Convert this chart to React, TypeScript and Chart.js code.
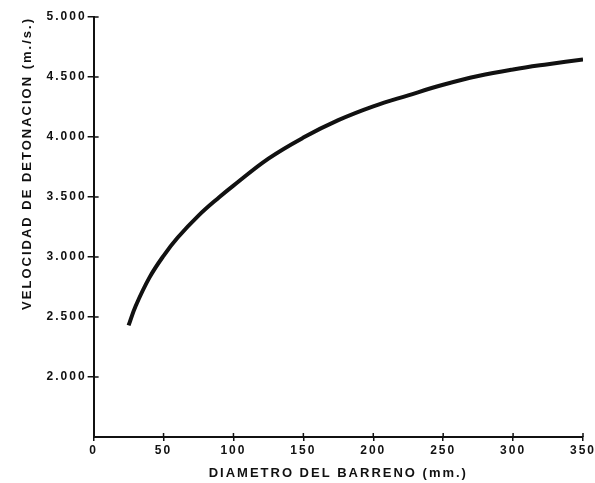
import React, { useEffect, useRef } from 'react';
import { Chart, registerables } from 'chart.js';

Chart.register(...registerables);

// Data
const diameters = [25, 30, 40, 50, 60, 75, 90, 100, 125, 150, 175, 200, 225, 250, 275, 300, 325, 350];
const velocities = [2430, 2590, 2830, 3010, 3160, 3345, 3500, 3595, 3820, 3995, 4140, 4255, 4347, 4435, 4508, 4563, 4607, 4647];

const xTickValues = [0, 50, 100, 150, 200, 250, 300, 350];
const yTickValues = [1500, 2000, 2500, 3000, 3500, 4000, 4500, 5000];
const yUnlabeled = [1500];

const xTitle = 'DIAMETRO DEL BARRENO (mm.)';
const yTitle = 'VELOCIDAD DE DETONACION (m./s.)';

const FONT = "'Liberation Sans', Arial, sans-serif";
const INK = '#111111';

const formatThousands = (v: number) => {
  const s = String(Math.round(v));
  return s.replace(/\B(?=(\d{3})+(?!\d))/g, '.');
};

const spacingPlugin = {
  id: 'spacing',
  beforeLayout(chart: any) {
    chart.ctx.letterSpacing = '2px';
  },
  beforeDraw(chart: any) {
    chart.ctx.letterSpacing = '2px';
  },
};

const innerTicksPlugin = {
  id: 'innerTicks',
  afterDraw(chart: any) {
    const ctx = chart.ctx;
    const xs = chart.scales.x;
    const ys = chart.scales.y;
    const axisX = xs.getPixelForValue(xs.min);
    const axisY = ys.getPixelForValue(ys.min);
    ctx.save();
    ctx.strokeStyle = INK;
    ctx.lineWidth = 1.5;
    ctx.beginPath();
    xTickValues.forEach((v) => {
      if (v === xs.min) return;
      const px = xs.getPixelForValue(v);
      ctx.moveTo(px, axisY);
      ctx.lineTo(px, axisY - 4);
    });
    yTickValues.forEach((v) => {
      if (yUnlabeled.includes(v)) return;
      const py = ys.getPixelForValue(v);
      ctx.moveTo(axisX, py);
      ctx.lineTo(axisX + 5, py);
    });
    ctx.stroke();
    ctx.restore();
  },
};

export default function App() {
  const canvasRef = useRef<HTMLCanvasElement | null>(null);

  useEffect(() => {
    if (!canvasRef.current) return;
    const chart = new Chart(canvasRef.current, {
      type: 'line',
      data: {
        datasets: [
          {
            data: diameters.map((d, i) => ({ x: d, y: velocities[i] })),
            borderColor: INK,
            borderWidth: 4,
            pointRadius: 0,
            fill: false,
            tension: 0.4,
            borderCapStyle: 'butt',
          },
        ],
      },
      options: {
        animation: false,
        responsive: false,
        maintainAspectRatio: false,
        layout: { padding: { left: 16, right: 0, top: 17, bottom: 0 } },
        plugins: {
          legend: { display: false },
          tooltip: { enabled: false },
        },
        scales: {
          x: {
            type: 'linear',
            min: 0,
            max: 350,
            afterBuildTicks: (axis: any) => {
              axis.ticks = xTickValues.map((v) => ({ value: v }));
            },
            afterFit: (axis: any) => {
              axis.paddingRight = 12;
            },
            ticks: {
              color: INK,
              font: { family: FONT, size: 12, weight: 'bold' },
              padding: 2,
              maxRotation: 0,
              callback: (v: any) => String(v),
            },
            grid: {
              display: true,
              drawOnChartArea: false,
              drawTicks: true,
              tickLength: 4,
              color: INK,
              lineWidth: 1.5,
            },
            border: { display: true, color: INK, width: 2 },
            title: {
              display: true,
              text: xTitle,
              color: INK,
              font: { family: FONT, size: 13, weight: 'bold' },
              padding: { top: 6, bottom: 2 },
            },
          },
          y: {
            type: 'linear',
            min: 1500,
            max: 5000,
            afterBuildTicks: (axis: any) => {
              axis.ticks = yTickValues.map((v) => ({ value: v }));
            },
            ticks: {
              color: INK,
              font: { family: FONT, size: 12, weight: 'bold' },
              padding: 1,
              callback: (v: any) => (yUnlabeled.includes(Number(v)) ? '' : formatThousands(Number(v))),
            },
            grid: {
              display: true,
              drawOnChartArea: false,
              drawTicks: true,
              tickLength: 6,
              color: (c: any) => (c.tick && yUnlabeled.includes(c.tick.value) ? 'rgba(0,0,0,0)' : INK),
              lineWidth: 1.5,
            },
            border: { display: true, color: INK, width: 2 },
            title: {
              display: true,
              text: yTitle,
              align: 'end',
              color: INK,
              font: { family: FONT, size: 13, weight: 'bold' },
              padding: { top: 4, bottom: 10 },
            },
          },
        },
      },
      plugins: [spacingPlugin, innerTicksPlugin],
    } as any);
    return () => chart.destroy();
  }, []);

  return (
    <div style={{ position: 'fixed', left: 0, top: 0, width: 595, height: 483, background: '#ffffff' }}>
      <canvas ref={canvasRef} width={595} height={483} style={{ width: 595, height: 483, display: 'block' }} />
    </div>
  );
}
